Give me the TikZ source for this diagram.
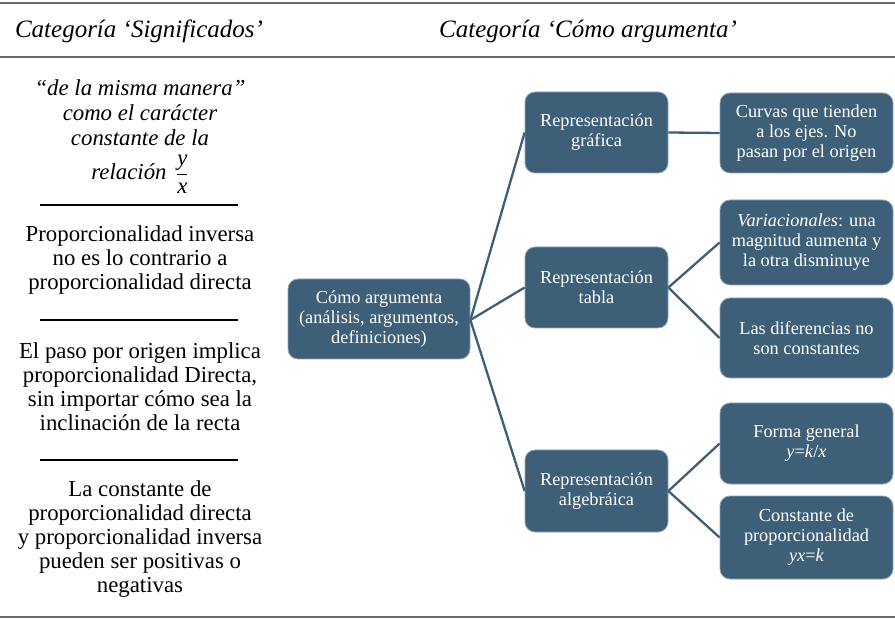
\documentclass[tikz,border=0pt]{standalone}
\usepackage{fontspec}
\setmainfont{Liberation Serif}
\definecolor{boxblue}{HTML}{3E5F78}
\definecolor{boxedge}{HTML}{8FA3B3}
\definecolor{rulegray}{HTML}{6A6A6A}
\begin{document}
\begin{tikzpicture}[x=1pt,y=-1pt,
  box/.style={draw=boxedge, line width=0.8pt, fill=boxblue, rounded corners=10pt, text=white,
    font=\fontsize{18.3}{20}\selectfont, align=center, inner sep=0pt},
  conn/.style={draw=boxblue, line width=2.3pt},
  lefttext/.style={font=\fontsize{22.8}{24}\selectfont, align=center},
  head/.style={font=\fontsize{25}{28}\selectfont\itshape},
  sep/.style={line width=1.1pt, black},
  bigrule/.style={line width=2.4pt, rulegray}]
\useasboundingbox (0,0) rectangle (895,620);
% rules
\coordinate (r1a) at (0,3); \coordinate (r1b) at (895,3);
\coordinate (r2a) at (0,57); \coordinate (r2b) at (895,57);
\coordinate (r3a) at (0,617); \coordinate (r3b) at (895,617);
\draw[bigrule] (r1a) -- (r1b);
\draw[bigrule] (r2a) -- (r2b);
\draw[bigrule] (r3a) -- (r3b);
% headers
\node[head] (h1) at (139,31) {Categoría ‘Significados’};
\node[head] (h2) at (588,31) {Categoría ‘Cómo argumenta’};
% left column
\node[lefttext, font=\fontsize{22.8}{25}\selectfont\itshape] (t1) at (140,136.5)
  {“de la misma manera”\\como el carácter\\constante de la\\[9pt]relación\, ${\displaystyle\frac{\mbox{\itshape y}}{\mbox{\itshape x}}}$};
\coordinate (s1a) at (40,205); \coordinate (s1b) at (238,205);
\draw[sep] (s1a) -- (s1b);
\node[lefttext] (t2) at (140,260)
  {Proporcionalidad inversa\\no es lo contrario a\\proporcionalidad directa};
\coordinate (s2a) at (40,320); \coordinate (s2b) at (238,320);
\draw[sep] (s2a) -- (s2b);
\node[lefttext] (t3) at (140,387)
  {El paso por origen implica\\proporcionalidad Directa,\\sin importar cómo sea la\\inclinación de la recta};
\coordinate (s3a) at (40,460); \coordinate (s3b) at (238,460);
\draw[sep] (s3a) -- (s3b);
\node[lefttext] (t4) at (140,539.5)
  {La constante de\\proporcionalidad directa\\y proporcionalidad inversa\\pueden ser positivas o\\negativas};
% boxes
\node[box, minimum width=182pt, minimum height=80pt] (root) at (379,319)
  {Cómo argumenta\\(análisis, argumentos,\\definiciones)};
\node[box, minimum width=143pt, minimum height=81pt] (graf) at (596.5,132.5)
  {Representación\\gráfica};
\node[box, minimum width=143pt, minimum height=81pt] (tabla) at (596.5,287.5)
  {Representación\\tabla};
\node[box, minimum width=143pt, minimum height=82pt] (alg) at (596.5,491)
  {Representación\\algebráica};
\node[box, minimum width=173pt, minimum height=80pt] (curv) at (806.5,133)
  {Curvas que tienden\\a los ejes. No\\pasan por el origen};
\node[box, minimum width=173pt, minimum height=85pt] (var) at (806.5,242.5)
  {\textit{Variacionales}: una\\magnitud aumenta y\\la otra disminuye};
\node[box, minimum width=173pt, minimum height=80pt] (dif) at (806.5,338)
  {Las diferencias no\\son constantes};
\node[box, minimum width=173pt, minimum height=81pt] (forma) at (806.5,443.5)
  {Forma general\\\textit{y}=\textit{k}/\textit{x}};
\node[box, minimum width=173pt, minimum height=83pt] (const) at (806.5,537.5)
  {Constante de\\proporcionalidad\\\textit{yx}=\textit{k}};
% connectors
\draw[conn] ([yshift=-1pt]root.east) -- (graf.west);
\draw[conn] ([yshift=-1pt]root.east) -- (tabla.west);
\draw[conn] ([yshift=-1pt]root.east) -- (alg.west);
\draw[conn] (graf.east) -- (curv.west);
\draw[conn] (tabla.east) -- (var.west);
\draw[conn] (tabla.east) -- (dif.west);
\draw[conn] (alg.east) -- (forma.west);
\draw[conn] (alg.east) -- (const.west);
\end{tikzpicture}
\end{document}
